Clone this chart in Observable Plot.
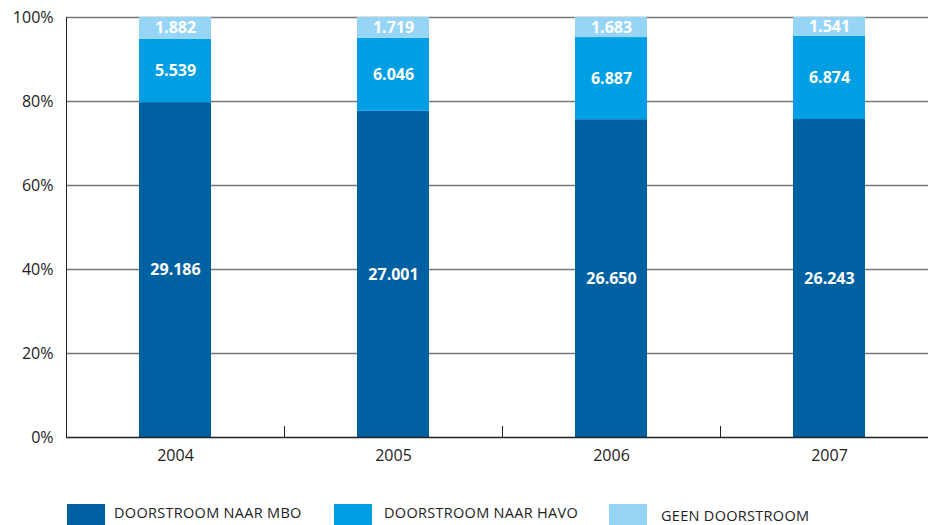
<!DOCTYPE html>
<html>
<head>
<meta charset="utf-8">
<script src="https://cdn.jsdelivr.net/npm/d3@7"></script>
<script src="https://cdn.jsdelivr.net/npm/@observablehq/plot@0.6"></script>
<style>
  html, body { margin: 0; padding: 0; background: #fff; overflow: hidden; }
  #wrap { position: relative; width: 928px; height: 525px; overflow: hidden; font-family: "Open Sans", sans-serif; color: #222; }
  #chart { position: absolute; left: 0; top: 0; }
  .sw { position: absolute; width: 38px; height: 24px; }
  .lt { position: absolute; font-size: 14.5px; line-height: 14.5px; letter-spacing: 0.3px; white-space: nowrap; color: #222; }
</style>
</head>
<body>
<div id="wrap"><div id="chart"></div></div>
<script>
const years = ["2004", "2005", "2006", "2007"];
const categories = ["DOORSTROOM NAAR MBO", "DOORSTROOM NAAR HAVO", "GEEN DOORSTROOM"];
const mbo = [29186, 27001, 26650, 26243];
const havo = [5539, 6046, 6887, 6874];
const geen = [1882, 1719, 1683, 1541];
const colors = ["#0061a2", "#009fe3", "#97d5f6"];
const yTicks = [0, 0.2, 0.4, 0.6, 0.8, 1];

const series = [mbo, havo, geen];
const data = [];
years.forEach((year, i) => {
  categories.forEach((cat, j) => data.push({year, cat, value: series[j][i]}));
});

const nl = d3.formatLocale({decimal: ",", thousands: ".", grouping: [3], currency: ["€", ""]});
const fmt = nl.format(",d");

function axisExtras(index, scales, values, dimensions) {
  const x = scales.x;
  const bw = typeof x.bandwidth === "function" ? x.bandwidth() : (x.bandwidth ?? 0);
  const y0 = scales.y(0), y1 = scales.y(1);
  const g = d3.create("svg:g").attr("stroke", "#222").attr("stroke-width", 1);
  g.append("line")
    .attr("x1", dimensions.marginLeft + 0.5).attr("x2", dimensions.marginLeft + 0.5)
    .attr("y1", y1).attr("y2", y0);
  for (let i = 0; i < years.length - 1; i++) {
    const xb = Math.round((x(years[i]) + bw + x(years[i + 1])) / 2) + 0.5;
    g.append("line").attr("x1", xb).attr("x2", xb).attr("y1", y0).attr("y2", y0 - 11);
  }
  return g.node();
}

const chart = Plot.plot({
  width: 928,
  height: 470,
  marginTop: 17,
  marginBottom: 33,
  marginLeft: 66,
  marginRight: -10,
  style: {fontFamily: "'Open Sans', sans-serif", fontSize: "16px", color: "#222", overflow: "visible", background: "white"},
  x: {domain: years, paddingInner: 0.67, paddingOuter: 0.335, label: null, tickSize: 0, tickPadding: 12},
  y: {domain: [0, 1], ticks: yTicks, tickFormat: d3.format(".0%"), tickSize: 0, tickPadding: 13, label: null},
  color: {domain: categories, range: colors},
  marks: [
    Plot.ruleY(yTicks.slice(1), {stroke: "#777", strokeWidth: 1.4}),
    Plot.barY(data, Plot.stackY({offset: "normalize", order: categories, x: "year", y: "value", z: "cat", fill: "cat"})),
    Plot.text(data, Plot.stackY({offset: "normalize", order: categories, x: "year", y: "value", z: "cat",
      text: d => fmt(d.value), fill: "white", fontWeight: "bold", fontSize: 16, letterSpacing: 0.4})),
    Plot.ruleY([0], {stroke: "#222", strokeWidth: 1.5}),
    axisExtras
  ]
});
document.getElementById("chart").appendChild(chart);

// Legend
const legendPos = [
  {sx: 67, tx: 114, ty: 506},
  {sx: 334, tx: 384, ty: 506},
  {sx: 609, tx: 661, ty: 509}
];
const wrap = document.getElementById("wrap");
categories.forEach((cat, i) => {
  const sw = document.createElement("div");
  sw.className = "sw";
  sw.style.left = legendPos[i].sx + "px";
  sw.style.top = "504px";
  sw.style.background = colors[i];
  wrap.appendChild(sw);
  const t = document.createElement("div");
  t.className = "lt";
  t.style.left = legendPos[i].tx + "px";
  t.style.top = legendPos[i].ty + "px";
  t.textContent = cat;
  wrap.appendChild(t);
});
</script>
</body>
</html>
